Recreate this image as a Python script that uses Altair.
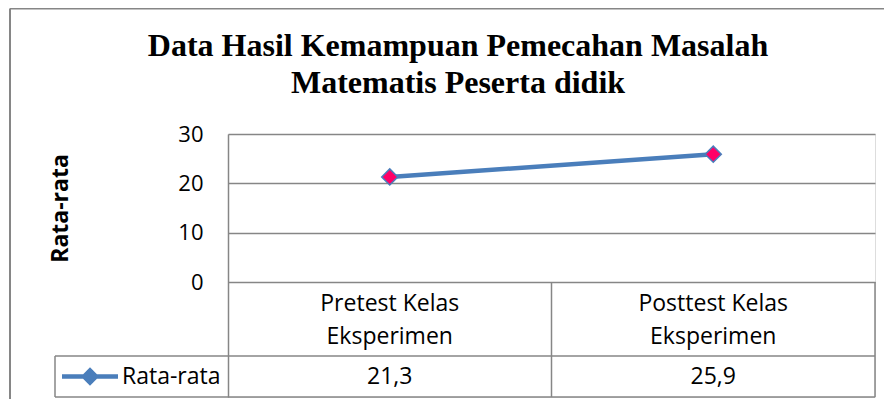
import altair as alt
import pandas as pd

# ---- data ----
categories = ["Pretest Kelas\nEksperimen", "Posttest Kelas\nEksperimen"]
values = [21.3, 25.9]
series_name = "Rata-rata"
y_ticks = [0, 10, 20, 30]
title_lines = ["Data Hasil Kemampuan Pemecahan Masalah", "Matematis Peserta didik"]

# data-table layout in y-scale units (table hangs under the zero line)
table_bottom = -23.3
row_split = -15.0
table_rows = [row_split, table_bottom]
cat_label_y = -4.4

df = pd.DataFrame({"cat": categories, "val": values, "series": series_name})
df["label"] = [f"{v:.1f}".replace(".", ",") for v in values]
rows_df = pd.DataFrame({"r": table_rows})
one = pd.DataFrame({"a": [0]})
title_df = pd.DataFrame({"t": ["\n".join(title_lines)]})

W, H = 647, 263
BLUE = "#4A7EBB"
PINK = "#FF0066"
GRID = "#868686"
FONT = "Open Sans"
FS = 23

xscale = alt.Scale(type="band", paddingInner=0, paddingOuter=0, domain=categories)
yscale = alt.Scale(domain=[table_bottom, 30], nice=False, zero=False)


def xenc(bp):
    return alt.X("cat:N", sort=categories, scale=xscale, axis=None, bandPosition=bp)


yaxis = alt.Axis(
    values=y_ticks, grid=True, gridColor=GRID, gridWidth=1.5,
    domainColor=GRID, domainWidth=1.5, ticks=False,
    labelFont=FONT, labelFontSize=22, labelColor="black", labelPadding=25,
    title="Rata-rata", titleFont=FONT, titleFontSize=23, titleFontWeight="bold",
    titleColor="black", titleX=-168, titleY=74, titleAngle=270,
    titleBaseline="middle", titleAlign="center",
)

line = alt.Chart(df).mark_line(strokeWidth=4.5).encode(
    x=xenc(0.5),
    y=alt.Y("val:Q", scale=yscale, axis=yaxis),
    color=alt.Color(
        "series:N",
        scale=alt.Scale(range=[BLUE]),
        legend=alt.Legend(
            orient="none", legendX=-149.5, legendY=231, title=None,
            symbolType="M-3.5,0L3.5,0M-0.75,0L0,-0.75L0.75,0L0,0.75Z",
            symbolSize=256, symbolStrokeWidth=4.5,
            symbolFillColor=BLUE, symbolStrokeColor=BLUE,
            labelFont=FONT, labelFontSize=FS, labelColor="black",
            labelOffset=20.5, padding=0,
        ),
    ),
)

points = alt.Chart(df).mark_point(
    shape="diamond", filled=True, fill=PINK, stroke=BLUE, strokeWidth=1.5,
    size=260, opacity=1,
).encode(x=xenc(0.5), y=alt.Y("val:Q", scale=yscale))

cat_text = alt.Chart(df).mark_text(
    font=FONT, fontSize=FS, lineBreak="\n", lineHeight=33,
    baseline="middle", color="black",
).encode(x=xenc(0.5), y=alt.datum(cat_label_y), text="cat:N")

val_text = alt.Chart(df).mark_text(
    font=FONT, fontSize=FS, baseline="middle", color="black",
).encode(x=xenc(0.5), y=alt.datum((row_split + table_bottom) / 2), text="label:N")

vrules = alt.Chart(df).mark_rule(color=GRID, strokeWidth=1.5).encode(
    x=xenc(1), y=alt.datum(0), y2=alt.datum(table_bottom)
)

hrules = alt.Chart(rows_df).mark_rule(color=GRID, strokeWidth=1.5).encode(
    y=alt.Y("r:Q", scale=yscale), x=alt.value(-173), x2=alt.value(W)
)

legend_left = alt.Chart(one).mark_rule(color=GRID, strokeWidth=1.5).encode(
    x=alt.value(-173), y=alt.datum(row_split), y2=alt.datum(table_bottom)
)

frame_top = alt.Chart(one).mark_rule(color=GRID, strokeWidth=2).encode(
    x=alt.value(-218), x2=alt.value(W + 9), y=alt.value(-125.5)
)
frame_left = alt.Chart(one).mark_rule(color=GRID, strokeWidth=2).encode(
    x=alt.value(-218), y=alt.value(-125.5), y2=alt.value(H + 2)
)

title = alt.Chart(title_df).mark_text(
    font="Liberation Serif", fontSize=32, fontWeight="bold", color="black",
    align="center", baseline="alphabetic", lineBreak="\n", lineHeight=37,
).encode(x=alt.value(230), y=alt.value(-78), text="t:N")

chart = alt.layer(
    frame_top, frame_left, hrules, vrules, legend_left,
    line, points, cat_text, val_text, title,
).properties(
    width=W, height=H,
    autosize=alt.AutoSizeParams(type="none"),
    padding={"left": 220, "top": 126, "right": 9, "bottom": 2},
).configure_view(stroke=None).configure(background="white")

chart.save("out.html", embed_options={"renderer": "svg", "actions": False})
